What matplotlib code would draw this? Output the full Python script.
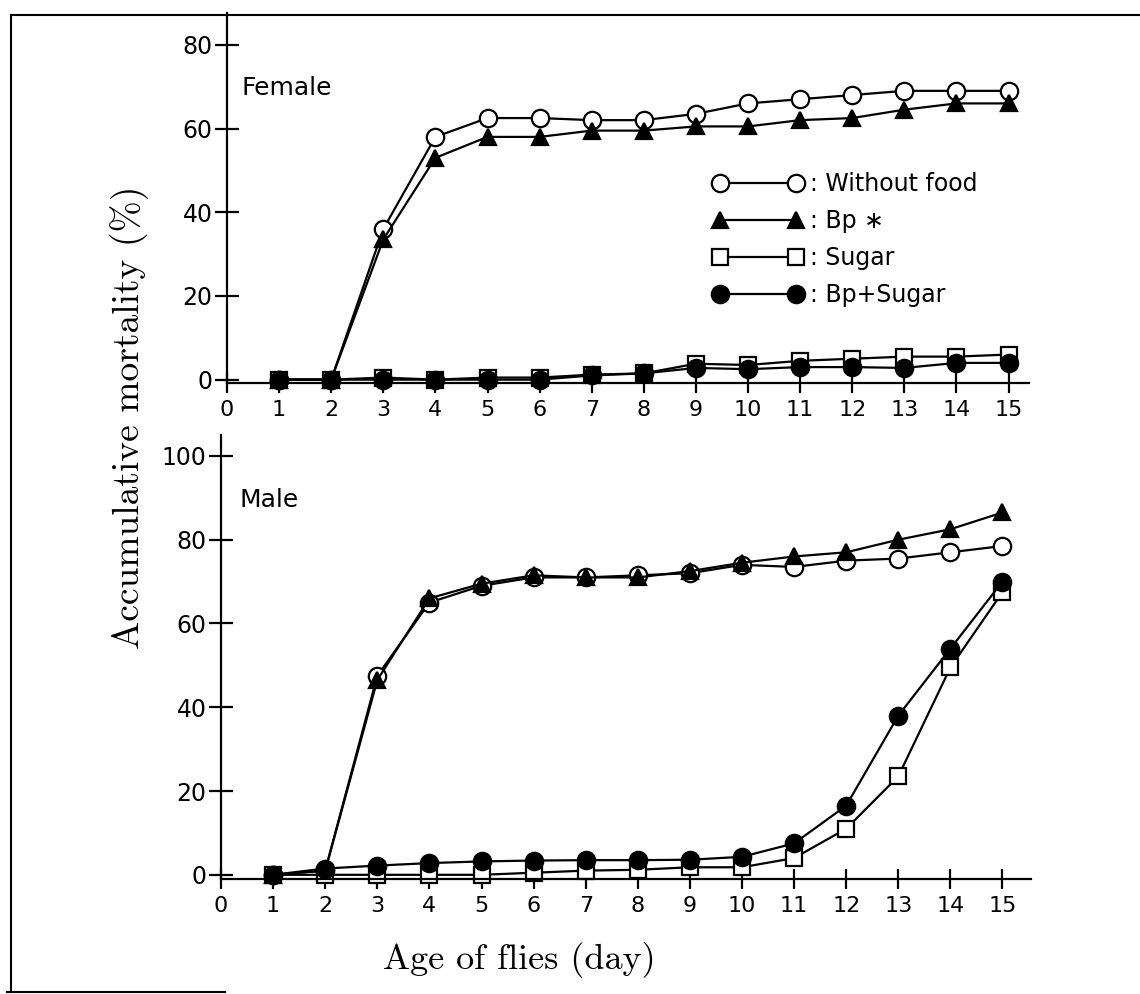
import matplotlib
matplotlib.use('Agg')
import matplotlib.pyplot as plt
from matplotlib.lines import Line2D

# ---------------- data ----------------
days = list(range(1, 16))
x_ticks = list(range(0, 16))
female_yticks = [0, 20, 40, 60, 80]
male_yticks = [0, 20, 40, 60, 80, 100]

series_labels = [": Without food", ": Bp \u2217", ": Sugar", ": Bp+Sugar"]

female_without_food = [0, 0, 36, 58, 62.5, 62.5, 62, 62, 63.5, 66, 67, 68, 69, 69, 69]
female_bp = [0, 0, 33.5, 53, 58, 58, 59.5, 59.5, 60.5, 60.5, 62, 62.5, 64.5, 66, 66]
female_sugar = [0, 0, 0.5, 0, 0.5, 0.5, 1.2, 1.5, 3.8, 3.5, 4.5, 5, 5.5, 5.5, 6]
female_bp_sugar = [0, 0, 0, 0, 0, 0, 1, 1.5, 2.8, 2.5, 3, 3, 2.8, 4, 4]

male_without_food = [0, 1, 47.5, 65, 69, 71, 71, 71.5, 72, 74, 73.5, 75, 75.5, 77, 78.5]
male_bp = [0, 1, 46.5, 66, 69.5, 71.5, 71, 71, 72.5, 74.5, 76, 77, 80, 82.5, 86.5]
male_sugar = [0, 0, 0, 0, 0, 0.5, 1, 1.2, 1.8, 1.8, 4, 11, 23.5, 49.5, 67.5]
male_bp_sugar = [0, 1.5, 2.2, 2.8, 3.2, 3.4, 3.5, 3.5, 3.6, 4.3, 7.5, 16.5, 38, 54, 70]

# ---------------- figure ----------------
W, H = 1140, 994
fig = plt.figure(figsize=(W / 100, H / 100), dpi=100)
fig.patch.set_facecolor('white')


def px_axes(left, top, right, bottom):
    return fig.add_axes([left / W, 1 - bottom / H, (right - left) / W, (bottom - top) / H])


day_px = 52.1
ax1 = px_axes(227, 13, 227 + 15.4 * day_px, 383)
ax2 = px_axes(221, 435, 221 + 15.55 * day_px, 879)

styles = [
    dict(marker='o', mfc='white', ms=12.5),
    dict(marker='^', mfc='black', ms=12),
    dict(marker='s', mfc='white', ms=12),
    dict(marker='o', mfc='black', ms=12.5),
]

panels = [
    (ax1, [female_without_food, female_bp, female_sugar, female_bp_sugar],
     (-0.8, 87.6), female_yticks, 15.4),
    (ax2, [male_without_food, male_bp, male_sugar, male_bp_sugar],
     (-1.0, 105), male_yticks, 15.55),
]

for ax, series, ylim, yt, xmax in panels:
    for vals, st, lab in zip(series, styles, series_labels):
        ax.plot(days, vals, color='black', lw=1.6, marker=st['marker'],
                ms=st['ms'], mfc=st['mfc'], mec='black', mew=1.6,
                label=lab, clip_on=False)
    ax.set_xlim(0, xmax)
    ax.set_ylim(*ylim)
    ax.set_xticks(x_ticks)
    ax.set_yticks(yt)
    for s in ['top', 'right']:
        ax.spines[s].set_visible(False)
    for s in ['left', 'bottom']:
        ax.spines[s].set_linewidth(1.6)
    ax.tick_params(axis='y', direction='inout', length=17, width=1.6,
                   labelsize=17, pad=2)
    ax.tick_params(axis='x', direction='inout', length=14, width=1.6,
                   labelsize=16, pad=5)
    ax.set_facecolor('none')

# legend
handles = ax1.get_lines()
ax1.legend(handles, series_labels, numpoints=2, handlelength=3.8,
           handletextpad=0.3, labelspacing=0.55, frameon=False, fontsize=17,
           loc='upper left', bbox_to_anchor=(713 / W, 1 - 172 / H),
           bbox_transform=fig.transFigure, borderpad=0, borderaxespad=0)

# panel titles
fig.text(242 / W, 1 - 88 / H, 'Female', fontsize=18, ha='left', va='center')
fig.text(240 / W, 1 - 500 / H, 'Male', fontsize=18, ha='left', va='center')

# axis labels
fig.text(130 / W, 1 - 417 / H, 'Accumulative mortality (%)', rotation=90,
         family='cmr10', fontsize=27, ha='center', va='center')
fig.text(519 / W, 1 - 960 / H, 'Age of flies (day)', family='cmr10',
         fontsize=26, ha='center', va='center')

# scanned page frame (partial)
frame_lines = [((11, 11), (15, 992)), ((11, 1140), (15, 15)), ((7, 225), (992, 992))]
for xs, ys in frame_lines:
    fig.add_artist(Line2D([x / W for x in xs], [1 - y / H for y in ys],
                          transform=fig.transFigure, color='black', lw=1.5))

fig.savefig('out.png', dpi=100, facecolor='white')
